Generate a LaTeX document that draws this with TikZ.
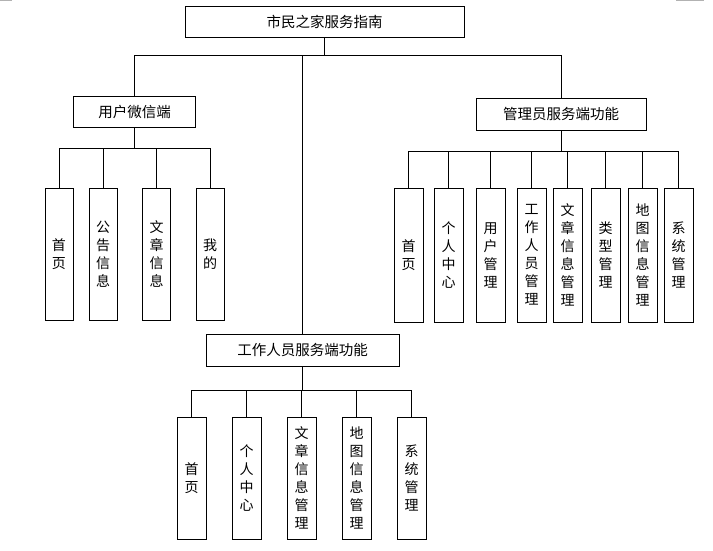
\documentclass[tikz,border=0pt]{standalone}
\usepackage{fontspec}
\setmainfont{Noto Sans CJK SC}
\begin{document}
\begin{tikzpicture}[x=1pt,y=-1pt,
  hbox/.style={draw=black,line width=1pt,inner sep=0pt,font=\fontsize{14.5}{18}\selectfont,anchor=center},
  vbox/.style={draw=black,line width=1pt,inner sep=0pt,align=center,font=\fontsize{14}{18}\selectfont,anchor=center},
  conn/.style={draw=black,line width=1pt}]
\useasboundingbox (0,0) rectangle (713,550);
\draw[gray!60,line width=1.2pt] (0,0.6) -- (12,0.6);
\draw[gray!60,line width=1.2pt] (676,0.6) -- (704,0.6);
% level 0 / 1
\node[hbox,minimum width=279,minimum height=31] (top) at (324.5,21.5) {市民之家服务指南};
\node[hbox,minimum width=122,minimum height=31] (L1) at (134.5,112) {用户微信端};
\node[hbox,minimum width=170,minimum height=32] (R1) at (561,114) {管理员服务端功能};
\node[hbox,minimum width=193,minimum height=32] (M1) at (302.5,350) {工作人员服务端功能};
\coordinate (bus0) at (0,55);
\draw[conn] (top.south) -- (top.south |- bus0);
\draw[conn] (L1.north) -- (L1.north |- bus0) -- (R1.north |- bus0) -- (R1.north);
\draw[conn] (M1.north) -- (M1.north |- bus0);
% user children
\foreach \n/\x/\t in {a1/59/{首\\页},a2/103/{公\\告\\信\\息},a3/156.5/{文\\章\\信\\息},a4/210/{我\\的}}{
  \node[vbox,minimum width=28,minimum height=132] (\n) at (\x,254) {\t};
}
\coordinate (bus1) at (0,148);
\draw[conn] (L1.south) -- (L1.south |- bus1);
\draw[conn] (a1.north) -- (a1.north |- bus1) -- (a4.north |- bus1) -- (a4.north);
\foreach \n in {a2,a3}{\draw[conn] (\n.north) -- (\n.north |- bus1);}
% admin children
\foreach \n/\x/\t in {b1/408.5/{首\\页},b2/448.5/{个\\人\\中\\心},b3/490.5/{用\\户\\管\\理},b4/531.5/{工\\作\\人\\员\\管\\理},b5/567.5/{文\\章\\信\\息\\管\\理},b6/605.5/{类\\型\\管\\理},b7/642.5/{地\\图\\信\\息\\管\\理},b8/678.5/{系\\统\\管\\理}}{
  \node[vbox,minimum width=29,minimum height=134] (\n) at (\x,255) {\t};
}
\coordinate (bus2) at (0,151);
\draw[conn] (R1.south) -- (R1.south |- bus2);
\draw[conn] (b1.north) -- (b1.north |- bus2) -- (b8.north |- bus2) -- (b8.north);
\foreach \n in {b2,b3,b4,b5,b6,b7}{\draw[conn] (\n.north) -- (\n.north |- bus2);}
% staff children
\foreach \n/\x/\t in {c1/191.5/{首\\页},c2/246.5/{个\\人\\中\\心},c3/301.5/{文\\章\\信\\息\\管\\理},c4/356.5/{地\\图\\信\\息\\管\\理},c5/411.5/{系\\统\\管\\理}}{
  \node[vbox,minimum width=29,minimum height=122] (\n) at (\x,478) {\t};
}
\coordinate (bus3) at (0,390);
\draw[conn] (M1.south) -- (M1.south |- bus3);
\draw[conn] (c1.north) -- (c1.north |- bus3) -- (c5.north |- bus3) -- (c5.north);
\foreach \n in {c2,c3,c4}{\draw[conn] (\n.north) -- (\n.north |- bus3);}
\end{tikzpicture}
\end{document}
